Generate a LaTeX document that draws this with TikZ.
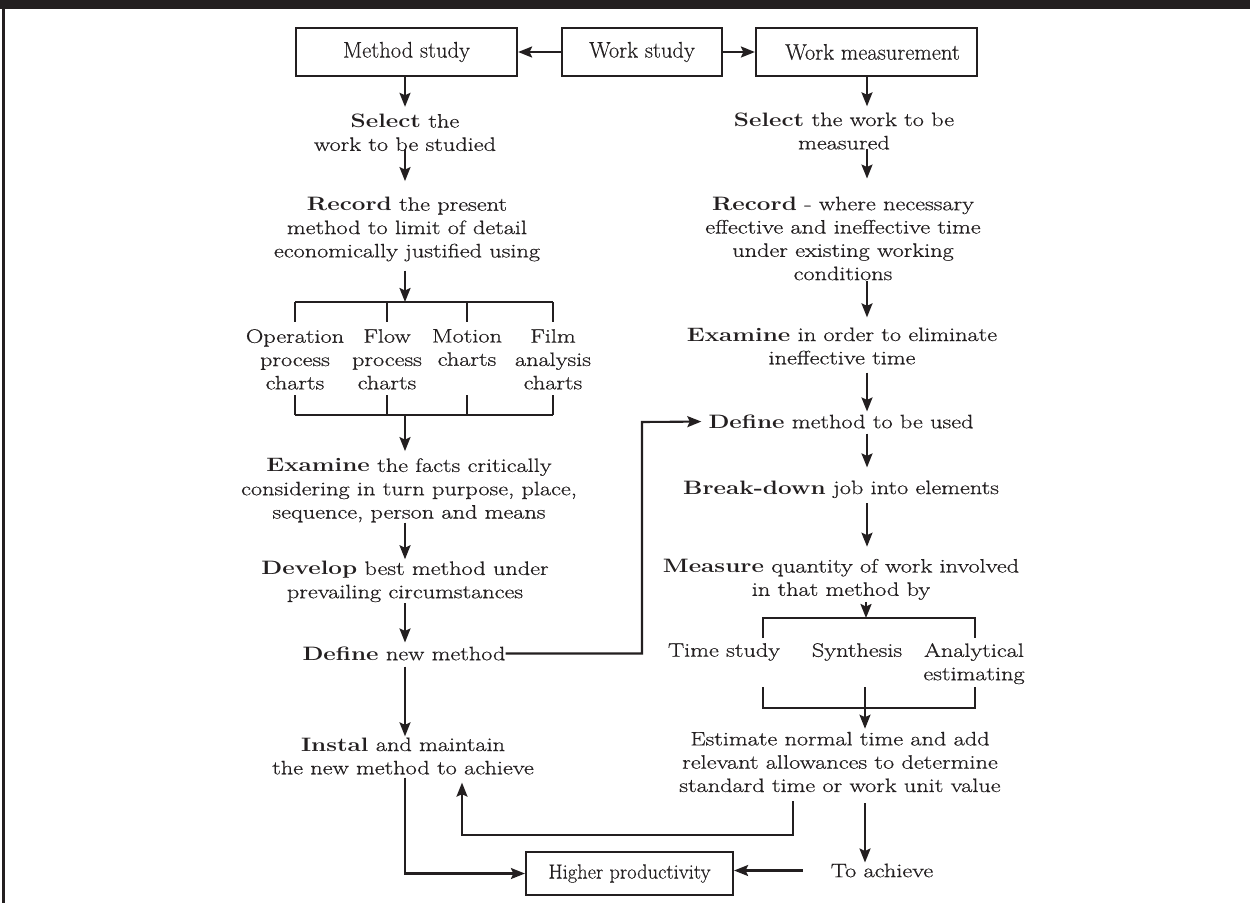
\documentclass[tikz,border=0pt]{standalone}
\usepackage{fontspec}
\setmainfont{Latin Modern Roman}[FakeStretch=1.25, UprightFeatures={FakeBold=0.6}]
\newfontfamily\boxfont{Latin Modern Roman}[FakeBold=0.3]
\usetikzlibrary{arrows.meta,calc}
\definecolor{ink}{HTML}{231F20}

\begin{document}
\begin{tikzpicture}[x=1pt,y=-1pt,
  conn/.style={line width=2.1pt, draw=ink},
  arr/.style={conn, -{Stealth[length=14pt,width=11pt,inset=2.5pt]}},
  txt/.style={align=center, inner sep=0pt, text=ink, font=\fontsize{19.4}{23.3}\selectfont},
  stagebox/.style={draw=ink, line width=2.2pt, inner sep=0pt, minimum height=48pt,
    text=ink, font=\boxfont\fontsize{22.5}{24}\selectfont},
]
\useasboundingbox (0,0) rectangle (1250,903);
\fill[white] (0,0) rectangle (1250,903);
% frame: heavy top band and left rule
\fill[ink] (0,0) rectangle (1250,8.5);
\draw[ink, line width=2.4pt] (3.5,8) -- (3.5,903);

% header row
\node[stagebox, minimum width=221pt] (ms) at (406.5,52) {Method study};
\node[stagebox, minimum width=160pt] (ws) at (642,52) {Work study};
\node[stagebox, minimum width=221pt] (wm) at (866.5,52) {\hspace*{12pt}Work measurement};
\draw[arr] (ws.west) -- (ms.east);
\draw[arr] (ws.east) -- (wm.west);

\coordinate (lcol) at (405,0);
\coordinate (rcol) at (867,0);

% method study column
\node[txt] (sel1) at (405,132.5) {\textbf{Select} the\\work to be studied};
\node[txt] (rec1) at (407,229.3) {\textbf{Record} the present\\method to limit of detail\\economically justified using};
\node[txt, anchor=north] (c1) at (295,329) {Operation\\process\\charts};
\node[txt, anchor=north] (c2) at (387,329) {Flow\\process\\charts};
\node[txt, anchor=north] (c3) at (467,329) {Motion\\charts};
\node[txt, anchor=north] (c4) at (553,329) {Film\\analysis\\charts};
\node[txt] (ex1) at (409,490.3) {\textbf{Examine} the facts critically\\considering in turn purpose, place,\\sequence, person and means};
\node[txt] (dev) at (405,581.8) {\textbf{Develop} best method under\\prevailing circumstances};
\node[txt] (def1) at (404,653.5) {\textbf{Define} new method};
\node[txt] (ins) at (403,756) {\textbf{Instal} and maintain\\the new method to achieve};
\node[stagebox, minimum width=207pt, minimum height=43pt,
  font=\boxfont\fontsize{20.5}{24}\selectfont] (hp) at (629.5,873.5) {Higher productivity};

% chart brackets
\coordinate (brT) at (405,302);
\coordinate (brTb) at (405,322);
\coordinate (brBt) at (405,395);
\coordinate (brB) at (405,415);
\draw[conn] (c1.north |- brT) -- (c4.north |- brT);
\draw[conn] (c1.south |- brB) -- (c4.south |- brB);
\foreach \c in {c1,c2,c3,c4}{
  \draw[conn] (\c.north |- brT) -- (\c.north |- brTb);
  \draw[conn] (\c.south |- brBt) -- (\c.south |- brB);
}

\draw[arr, shorten >=7pt] (ms.south -| lcol) -- (sel1.north -| lcol);
\draw[arr, shorten <=-2pt, shorten >=16pt] (sel1.south -| lcol) -- (rec1.north -| lcol);
\draw[arr, shorten <=9pt] (rec1.south -| lcol) -- (brT);
\draw[arr, shorten >=7pt] (brB) -- (ex1.north -| lcol);
\draw[arr, shorten >=2pt] (ex1.south -| lcol) -- (dev.north -| lcol);
\draw[arr, shorten <=1pt, shorten >=4pt] (dev.south -| lcol) -- (def1.north -| lcol);
\draw[arr, shorten <=6pt, shorten >=1pt] (def1.south -| lcol) -- (ins.north -| lcol);
\draw[arr, shorten <=3pt] (ins.south -| lcol) |- (hp.west);

% work measurement column
\node[txt] (sel2) at (844,131) {\textbf{Select} the work to be\\measured};
\node[txt] (rec2) at (843,238.5) {\textbf{Record} - where necessary\\effective and ineffective time\\under existing working\\conditions};
\node[txt] (ex2) at (842,346) {\textbf{Examine} in order to eliminate\\ineffective time};
\node[txt] (def2) at (841,421.5) {\textbf{Define} method to be used};
\node[txt] (brk) at (841,489.3) {\textbf{Break-down} job into elements};
\node[txt] (mea) at (841,579.3) {\textbf{Measure} quantity of work involved\\in that method by};
\node[txt, anchor=north] (ts) at (724,643) {Time study};
\node[txt, anchor=north] (syn) at (857,643) {Synthesis};
\node[txt, anchor=north] (ana) at (974,643) {Analytical\\estimating};
\node[txt] (est) at (840,762) {Estimate normal time and add\\relevant allowances to determine\\standard time or work unit value};
\node[txt] (ach) at (882,870.5) {To achieve};

\draw[arr, shorten >=6pt] (wm.south -| rcol) -- (sel2.north -| rcol);
\draw[arr, shorten <=-1pt, shorten >=18pt] (sel2.south -| rcol) -- (rec2.north -| rcol);
\draw[arr, shorten <=1pt, shorten >=10pt] (rec2.south -| rcol) -- (ex2.north -| rcol);
\draw[arr, shorten <=8pt, shorten >=3pt] (ex2.south -| rcol) -- (def2.north -| rcol);
\draw[arr, shorten <=5pt, shorten >=13pt] (def2.south -| rcol) -- (brk.north -| rcol);
\draw[arr, shorten <=5pt, shorten >=12pt] (brk.south -| rcol) -- (mea.north -| rcol);

% technique brackets
\coordinate (bt2) at (866,618);
\coordinate (bt2L) at (763,618);
\coordinate (bt2R) at (975,618);
\coordinate (bt2Ld) at (763,638);
\coordinate (bt2Rd) at (975,638);
\coordinate (bb2Lu) at (763,687);
\coordinate (bb2L) at (763,708);
\coordinate (bb2R) at (975,708);
\coordinate (bb2Ru) at (975,687);
\coordinate (bb2M) at (865,687);
\draw[arr, shorten <=2pt] (mea.south -| bt2) -- (bt2);
\draw[conn] (bt2Ld) -- (bt2L) -- (bt2R) -- (bt2Rd);
\draw[conn] (bb2Lu) -- (bb2L) -- (bb2R) -- (bb2Ru);
\draw[arr, shorten >=3pt] (bb2M) -- (est.north -| bb2M);
\draw[arr, shorten <=11pt, shorten >=1pt] (est.south -| bb2M) -- (ach.north -| bb2M);

% links between the columns
\coordinate (fbUp) at (642,422);
\draw[arr, shorten >=7pt] (def1.east) -| (fbUp) -- (def2.west);
\coordinate (fbR) at (793,835);
\coordinate (fbL) at (462,835);
\draw[arr, shorten <=9pt, shorten >=8pt] (est.south -| fbR) -- (fbR) -- (fbL) -- (ins.south -| fbL);
\draw[arr, shorten <=28pt] (ach.west) -- (ach.west -| hp.east);
\end{tikzpicture}
\end{document}
